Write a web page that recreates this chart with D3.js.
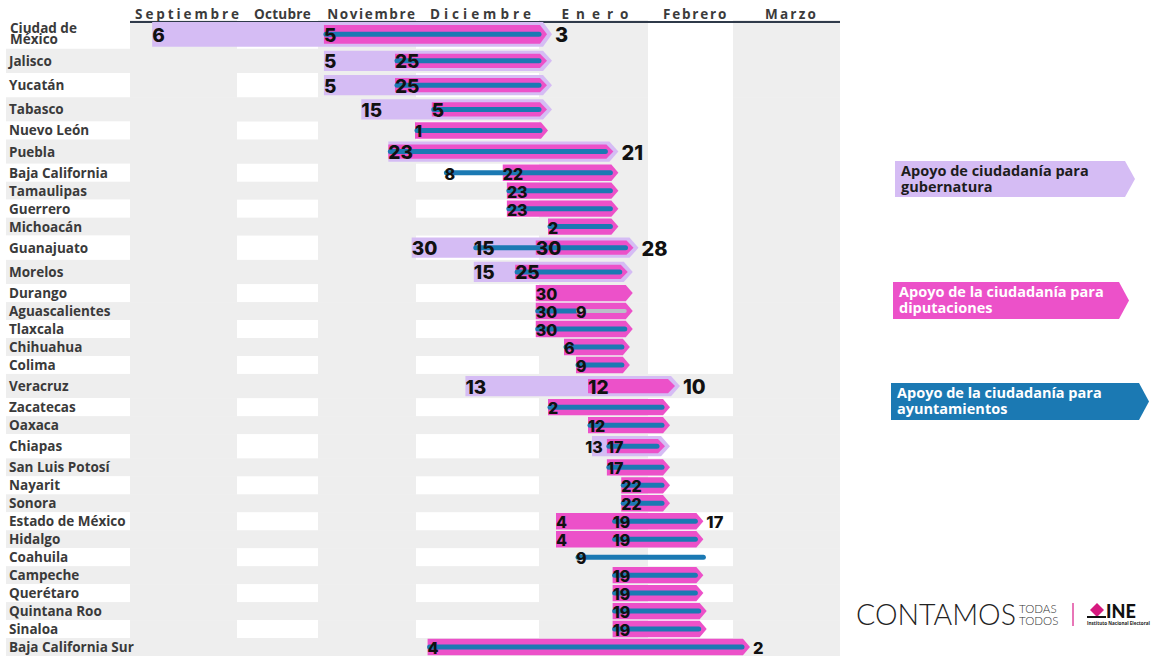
<!DOCTYPE html>
<html><head><meta charset="utf-8">
<script src="https://cdn.jsdelivr.net/npm/d3@7"></script>
<style>
html,body{margin:0;padding:0;background:#fff;}
svg{display:block;font-family:"Open Sans","DejaVu Sans",sans-serif;}
</style></head><body>
<svg id="chart" width="1162" height="656"></svg>
<script>
// ---------------- DATA ----------------
const states = ["Ciudad de México","Jalisco","Yucatán","Tabasco","Nuevo León","Puebla","Baja California",
  "Tamaulipas","Guerrero","Michoacán","Guanajuato","Morelos","Durango","Aguascalientes","Tlaxcala",
  "Chihuahua","Colima","Veracruz","Zacatecas","Oaxaca","Chiapas","San Luis Potosí","Nayarit","Sonora",
  "Estado de México","Hidalgo","Coahuila","Campeche","Querétaro","Quintana Roo","Sinaloa","Baja California Sur"];

const monthLabels = ["Septiembre","Octubre","Noviembre","Diciembre","Enero","Febrero","Marzo"];
const monthStarts = ["2023-09-01","2023-10-01","2023-11-01","2023-12-01","2024-01-01","2024-02-01","2024-03-01","2024-04-01"];

// Apoyo de ciudadanía para gubernatura (start)
const gubStart = ["2023-09-06","2023-11-05","2023-11-05","2023-11-15",null,"2023-11-23",null,
  null,null,null,"2023-11-30","2023-12-15",null,null,null,
  null,null,"2023-12-13",null,null,"2024-01-13",null,null,null,
  null,null,null,null,null,null,null,null];
// Apoyo de la ciudadanía para diputaciones (start)
const dipStart = ["2023-11-05","2023-11-25","2023-11-25","2023-12-05","2023-12-01","2023-11-23","2023-12-22",
  "2023-12-23","2023-12-23","2024-01-02","2023-12-30","2023-12-25","2023-12-30","2023-12-30","2023-12-30",
  "2024-01-06","2024-01-09","2024-01-12","2024-01-02","2024-01-12","2024-01-17","2024-01-17","2024-01-22","2024-01-22",
  "2024-01-04","2024-01-04",null,"2024-01-19","2024-01-19","2024-01-19","2024-01-19","2023-12-04"];
// Apoyo de la ciudadanía para ayuntamientos (start)
const ayuStart = ["2023-11-05","2023-11-25","2023-11-25","2023-12-05","2023-12-01","2023-11-23","2023-12-08",
  "2023-12-23","2023-12-23","2024-01-02","2023-12-15","2023-12-25",null,"2023-12-30","2023-12-30",
  "2024-01-06","2024-01-09",null,"2024-01-02","2024-01-12","2024-01-17","2024-01-17","2024-01-22","2024-01-22",
  "2024-01-19","2024-01-19","2024-01-09","2024-01-19","2024-01-19","2024-01-19","2024-01-19","2023-12-04"];
// Ayuntamientos early end (only Aguascalientes), followed by a grey segment
const ayuEnd = states.map(s => s === "Aguascalientes" ? "2024-01-09" : null);
const grayStart = states.map(s => s === "Aguascalientes" ? "2024-01-09" : null);
// End of the periods in each row
const rowEnd = ["2024-01-03","2024-01-03","2024-01-03","2024-01-03","2024-01-02","2024-01-21","2024-01-21",
  "2024-01-21","2024-01-21","2024-01-21","2024-01-28","2024-01-26","2024-01-26","2024-01-26","2024-01-26",
  "2024-01-25","2024-01-25","2024-02-10","2024-02-07","2024-02-07","2024-02-07","2024-02-07","2024-02-07","2024-02-07",
  "2024-02-17","2024-02-17","2024-02-17","2024-02-17","2024-02-17","2024-02-18","2024-02-18","2024-03-02"];
const endLabelled = ["Ciudad de México","Puebla","Guanajuato","Veracruz","Estado de México","Baja California Sur"];

const legendLabels = [["Apoyo de ciudadanía para","gubernatura"],
  ["Apoyo de la ciudadanía para","diputaciones"],
  ["Apoyo de la ciudadanía para","ayuntamientos"]];

// ---------------- STYLE ----------------
const C = {gub:"#d5bcf4", dip:"#ec51c9", ayu:"#1b79b3", gray:"#b9c0c8", bg:"#eeeeee", text:"#3a3a3a"};
const monthSpacing = {"Septiembre":2.9,"Octubre":0.3,"Noviembre":1.6,"Diciembre":4,"Enero":7,"Febrero":1.8,"Marzo":2.2};
const numFont = "Inter, 'Open Sans', sans-serif";

const parse = d3.timeParse("%Y-%m-%d");
const P = v => v ? parse(v) : null;
const svg = d3.select("#chart");

// column scale (month bands in the header)
const xCol = d3.scaleTime().domain(monthStarts.map(parse)).range([130,237,318,416,539,648,733,840]);
// bar scale (timeline of the periods)
const barAnchors = ["2023-09-01","2023-10-01","2023-11-01","2023-11-16","2023-12-01","2023-12-16",
  "2024-01-01","2024-01-16","2024-02-01","2024-02-16","2024-03-01","2024-04-01"].map(parse);
const xBar = d3.scaleTime().domain(barAnchors).range([138,223,309,365,415,478,544,604,650,700,747,840]);

// rows
const weights = states.map((s,i) => i === 0 ? 1.6 : (gubStart[i] ? 1.35 : 1));
const cum = d3.cumsum(weights);
const yS = d3.scaleLinear().domain([0, cum[cum.length-1]]).range([20, 656]);
const rows = states.map((s,i) => {
  const top = yS(cum[i]-weights[i]), bot = yS(cum[i]);
  return {i, s, top, bot, mid:(top+bot)/2, gub:P(gubStart[i]), dip:P(dipStart[i]), ayu:P(ayuStart[i]),
    ayuEnd:P(ayuEnd[i]), gray:P(grayStart[i]), end:P(rowEnd[i])};
});

// ---------------- BACKGROUND ----------------
const bg = svg.append("g");
rows.forEach(r => {
  bg.append("rect").attr("x",6).attr("y",r.top).attr("width",124).attr("height",r.bot-r.top)
    .attr("fill", r.i % 2 ? C.bg : "#fff");
  monthLabels.forEach((m,j) => {
    const x0 = xCol(parse(monthStarts[j])), x1 = xCol(parse(monthStarts[j+1]));
    let gray = (j % 2 === 0) || (r.i % 2 === 1);
    if (m === "Febrero" && r.i < 17) gray = false;
    bg.append("rect").attr("x",x0).attr("y",r.top).attr("width",x1-x0).attr("height",r.bot-r.top+0.5)
      .attr("fill", gray ? C.bg : "#fff");
  });
});

// header
const hdr = svg.append("g");
monthLabels.forEach((m,j) => {
  const a = parse(monthStarts[j]), b = parse(monthStarts[j+1]);
  const mid = new Date((+a + +b)/2);
  hdr.append("text").attr("x", xCol(mid)+5).attr("y", 19).attr("text-anchor","middle")
    .attr("font-size",13.5).attr("font-weight",700).attr("fill","#3b3b3b")
    .style("letter-spacing", monthSpacing[m]+"px").text(m);
});
hdr.append("line").attr("x1",xCol.range()[0]).attr("x2",xCol.range()[xCol.range().length-1])
  .attr("y1",22).attr("y2",22).attr("stroke","#2f3a4a").attr("stroke-width",2.2);

// state labels
const lab = svg.append("g").attr("fill",C.text).attr("font-size",13.5).attr("font-weight",700);
rows.forEach(r => {
  if (r.s === "Ciudad de México") {
    lab.append("text").attr("x",10).attr("y",r.mid-6.5).attr("dominant-baseline","central").text("Ciudad de");
    lab.append("text").attr("x",10).attr("y",r.mid+5).attr("dominant-baseline","central").text("México");
  } else {
    lab.append("text").attr("x",9).attr("y",r.mid).attr("dominant-baseline","central").text(r.s);
  }
});

// ---------------- BARS ----------------
const chevron = (x0, x1, y0, y1, tip) => {
  const m = (y0+y1)/2;
  return [[x0,y0],[x1-tip,y0],[x1,m],[x1-tip,y1],[x0,y1]].map(p=>p.join(",")).join(" ");
};
const bars = svg.append("g");
const labels = svg.append("g").attr("fill","#111").attr("font-weight",800).attr("font-family",numFont);
rows.forEach(r => {
  const xe = xBar(r.end);
  let pinkTip = xe;
  if (r.gub) {
    bars.append("polygon").attr("points", chevron(xBar(r.gub), xe, r.top+2, r.bot-2, 9)).attr("fill",C.gub);
  }
  if (r.dip) {
    const inset = r.gub ? 5 : 0.8;
    pinkTip = r.gub ? xe-5 : xe;
    bars.append("polygon").attr("points", chevron(xBar(r.dip), pinkTip, r.top+inset, r.bot-inset, 7)).attr("fill",C.dip);
  }
  if (r.ayu) {
    const x1 = r.ayuEnd ? xBar(r.ayuEnd) : (r.dip ? pinkTip-8 : xe);
    bars.append("line").attr("x1",xBar(r.ayu)+2).attr("x2",x1).attr("y1",r.mid).attr("y2",r.mid)
      .attr("stroke",C.ayu).attr("stroke-width",5).attr("stroke-linecap","round");
  }
  if (r.gray) {
    bars.append("line").attr("x1",xBar(r.gray)+2).attr("x2",pinkTip-8).attr("y1",r.mid).attr("y2",r.mid)
      .attr("stroke",C.gray).attr("stroke-width",4).attr("stroke-linecap","round");
  }
  // start labels (one per distinct date)
  const starts = [r.gub, r.dip, r.ayu, r.gray].filter(Boolean);
  const uniq = Array.from(new Set(starts.map(d => +d))).sort((a,b)=>a-b).map(t => new Date(t));
  const big = r.gub && r.s !== "Chiapas";
  const fs = big ? 19 : 16;
  const nodes = uniq.map(d => labels.append("text").attr("x", xBar(d)).attr("y", r.mid+1)
      .attr("dominant-baseline","central").attr("font-size", fs).text(d.getDate()));
  // keep neighbouring labels from overlapping: push the earlier one left
  for (let k = nodes.length-2; k >= 0; k--) {
    const a = nodes[k], b = nodes[k+1];
    const ax = +a.attr("x"), w = a.node().getComputedTextLength(), bx = +b.attr("x");
    if (ax + w > bx - 4) a.attr("x", bx - 4 - w);
  }
  if (endLabelled.includes(r.s)) {
    labels.append("text").attr("x", xe+3).attr("y", r.mid+1).attr("dominant-baseline","central")
      .attr("font-size", big ? 20 : 16.5).text(r.end.getDate());
  }
});

// ---------------- LEGEND ----------------
const leg = svg.append("g").attr("font-size",14.5).attr("font-weight",700);
const legBoxes = [{x:895,x1:1135,y:161,y1:197,c:C.gub,t:"#1d1d1d"},
  {x:893,x1:1129,y:282,y1:319,c:C.dip,t:"#fff"},
  {x:891,x1:1149,y:383,y1:420,c:C.ayu,t:"#fff"}];
legBoxes.forEach((b,k) => {
  leg.append("polygon").attr("points", chevron(b.x, b.x1, b.y, b.y1, 10)).attr("fill", b.c);
  legendLabels[k].forEach((line,li) => {
    leg.append("text").attr("x", b.x+6).attr("y", b.y+15+li*16).attr("fill", b.t).text(line);
  });
});

// ---------------- LOGO ----------------
const logo = svg.append("g");
logo.append("text").attr("x",856).attr("y",625).attr("font-family","Lato").attr("font-weight",300)
  .attr("font-size",28.5).attr("fill","#222").text("CONTAMOS");
logo.append("text").attr("x",1019).attr("y",613).attr("font-family","Lato").attr("font-weight",300)
  .attr("font-size",11.5).attr("fill","#333").text("TODAS");
logo.append("text").attr("x",1019).attr("y",625).attr("font-family","Lato").attr("font-weight",300)
  .attr("font-size",11.5).attr("fill","#333").text("TODOS");
logo.append("line").attr("x1",1073).attr("x2",1073).attr("y1",603).attr("y2",626).attr("stroke","#e0489f").attr("stroke-width",1.5);
logo.append("polygon").attr("points","1097,603 1104,610 1097,617 1090,610").attr("fill","#d6197f");
logo.append("line").attr("x1",1087).attr("x2",1106).attr("y1",617).attr("y2",617).attr("stroke","#111").attr("stroke-width",2);
logo.append("text").attr("x",1106).attr("y",618).attr("font-family","Lato").attr("font-weight",900)
  .attr("font-size",18).attr("fill","#111").text("INE");
logo.append("text").attr("x",1087).attr("y",625).attr("font-size",4.6).attr("font-weight",700)
  .attr("fill","#222").text("Instituto Nacional Electoral");
</script>
</body></html>
